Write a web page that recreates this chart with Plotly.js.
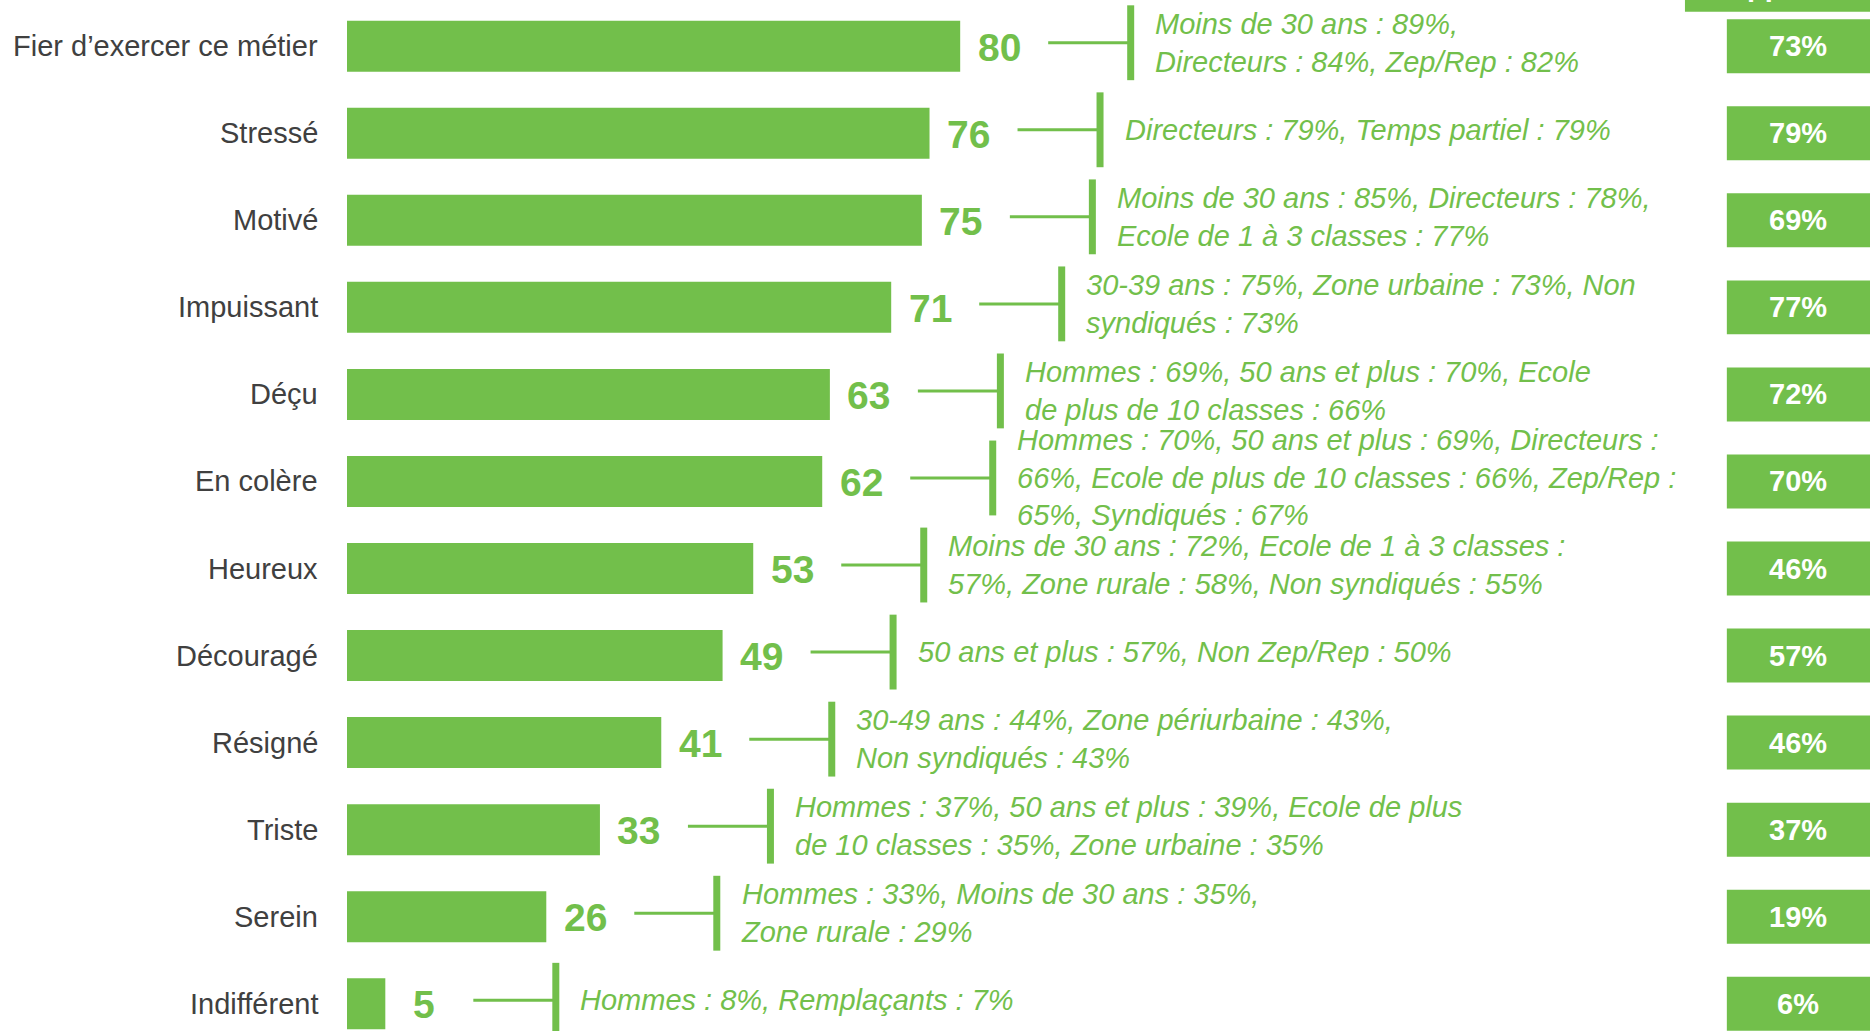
<!DOCTYPE html>
<html>
<head>
<meta charset="utf-8">
<script src="https://cdn.plot.ly/plotly-3.0.1.min.js"></script>
<style>
  html, body { margin: 0; padding: 0; background: #ffffff; }
  #chart { width: 1870px; height: 1031px; }
</style>
</head>
<body>
<div id="chart"></div>
<script>
// ---- Data ----
const categories = [
  "Fier d’exercer ce métier", "Stressé", "Motivé", "Impuissant", "Déçu", "En colère",
  "Heureux", "Découragé", "Résigné", "Triste", "Serein", "Indifférent"
];
const values = [80, 76, 75, 71, 63, 62, 53, 49, 41, 33, 26, 5];
const previousValues = [73, 79, 69, 77, 72, 70, 46, 57, 46, 37, 19, 6];
const details = [
  "Moins de 30 ans : 89%,<br>Directeurs : 84%, Zep/Rep : 82%",
  "Directeurs : 79%, Temps partiel : 79%",
  "Moins de 30 ans : 85%, Directeurs : 78%,<br>Ecole de 1 à 3 classes : 77%",
  "30-39 ans : 75%, Zone urbaine : 73%, Non<br>syndiqués : 73%",
  "Hommes : 69%, 50 ans et plus : 70%, Ecole<br>de plus de 10 classes : 66%",
  "Hommes : 70%, 50 ans et plus : 69%, Directeurs :<br>66%, Ecole de plus de 10 classes : 66%, Zep/Rep :<br>65%, Syndiqués : 67%",
  "Moins de 30 ans : 72%, Ecole de 1 à 3 classes :<br>57%, Zone rurale : 58%, Non syndiqués : 55%",
  "50 ans et plus : 57%, Non Zep/Rep : 50%",
  "30-49 ans : 44%, Zone périurbaine : 43%,<br>Non syndiqués : 43%",
  "Hommes : 37%, 50 ans et plus : 39%, Ecole de plus<br>de 10 classes : 35%, Zone urbaine : 35%",
  "Hommes : 33%, Moins de 30 ans : 35%,<br>Zone rurale : 29%",
  "Hommes : 8%, Remplaçants : 7%"
];
const headerText = "Rappel";

// ---- Styles ----
const GREEN = "#72BF4B";
const FONT = "Liberation Sans, Arial, sans-serif";

const shapes = [];
const annotations = [];

categories.forEach((cat, i) => {
  const v = values[i];
  const yc = i - 0.04;
  // category label
  annotations.push({
    xref: "paper", x: 0, xanchor: "right", xshift: -27.5,
    yref: "y", y: i, yanchor: "middle",
    text: cat, showarrow: false,
    font: { family: FONT, size: 29, color: "#404040" }
  });
  // value label
  annotations.push({
    xref: "x", x: v, xanchor: "center", xshift: 39,
    yref: "y", y: i, yanchor: "middle", yshift: -1,
    text: String(v), showarrow: false,
    font: { family: FONT, size: 39, color: GREEN, weight: "bold" }
  });
  // connector line
  shapes.push({
    type: "line", xref: "x", yref: "y", xsizemode: "pixel", xanchor: v,
    x0: 88, x1: 168, y0: yc, y1: yc,
    line: { color: GREEN, width: 3 }
  });
  // vertical bracket
  shapes.push({
    type: "rect", xref: "x", yref: "y", xsizemode: "pixel", xanchor: v,
    x0: 167, x1: 174, y0: yc - 0.43, y1: yc + 0.43,
    fillcolor: GREEN, line: { width: 0 }
  });
  // detail text
  annotations.push({
    xref: "x", x: v, xanchor: "left", xshift: 193,
    yref: "y", y: yc, yanchor: "middle",
    text: "<i>" + details[i] + "</i>", align: "left", showarrow: false,
    font: { family: FONT, size: 29, color: GREEN }
  });
  // previous value box
  shapes.push({
    type: "rect", xref: "paper", yref: "y",
    x0: 0.906, x1: 1.0, y0: i - 0.31, y1: i + 0.31,
    fillcolor: GREEN, line: { width: 0 }
  });
  annotations.push({
    xref: "paper", x: 0.953, xanchor: "center",
    yref: "y", y: i, yanchor: "middle",
    text: "<b>" + previousValues[i] + "%</b>", showarrow: false,
    font: { family: FONT, size: 29, color: "#ffffff" }
  });
});

// header box (mostly cut off at the top)
shapes.push({
  type: "rect", xref: "paper", yref: "y",
  x0: 0.8785, x1: 1.0, y0: -0.397, y1: -1.5,
  fillcolor: GREEN, line: { width: 0 }
});
annotations.push({
  xref: "paper", x: 0.9265, xanchor: "center",
  yref: "paper", y: 1, yanchor: "bottom", yshift: -4,
  text: "<b>" + headerText + "</b>", showarrow: false,
  font: { family: FONT, size: 29, color: "#ffffff" }
});

const trace = {
  type: "bar", orientation: "h",
  x: values, y: categories,
  width: 0.586,
  marker: { color: GREEN, line: { width: 0 } },
  hoverinfo: "none", textposition: "none"
};

const layout = {
  width: 1870, height: 1031,
  margin: { l: 347, r: 0, t: 0, b: 0, pad: 0 },
  paper_bgcolor: "#ffffff", plot_bgcolor: "#ffffff",
  showlegend: false,
  xaxis: { range: [0, 198.7], showgrid: false, zeroline: false, showticklabels: false, ticks: "", showline: false, fixedrange: true },
  yaxis: { type: "category", range: [11.313, -0.531], showgrid: false, zeroline: false, showticklabels: false, ticks: "", showline: false, fixedrange: true },
  shapes: shapes,
  annotations: annotations,
  font: { family: FONT }
};

Plotly.newPlot("chart", [trace], layout, { displayModeBar: false, staticPlot: true });
</script>
</body>
</html>
